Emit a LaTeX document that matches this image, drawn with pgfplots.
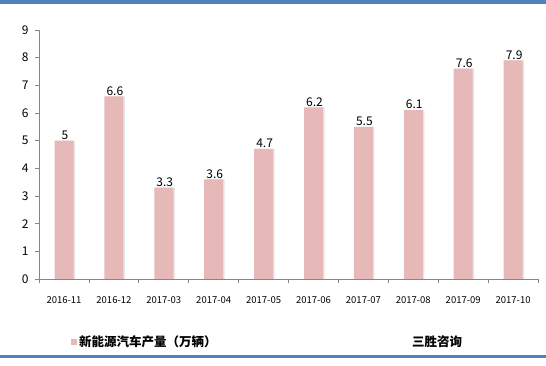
\documentclass[border=0pt]{standalone}
\usepackage{pgfplots}
\pgfplotsset{compat=1.18}
\usepackage{fontspec}
\setmainfont{Noto Sans CJK SC}
\definecolor{barpink}{HTML}{E6B9B8}
\definecolor{axisgray}{HTML}{868686}
\definecolor{bandblue}{HTML}{4F81BD}
\begin{document}
\begin{tikzpicture}[x=1pt,y=1pt]
\path[use as bounding box] (0,0) rectangle (546,366);
\fill[bandblue] (0,362) rectangle (546,366);
\fill[bandblue] (0,8) rectangle (546,11);
\begin{axis}[
  at={(64pt,87pt)}, anchor=origin,
  scale only axis, width=499pt, height=249pt,
  xmin=-0.5, xmax=9.5, ymin=0, ymax=9,
  axis lines*=left,
  axis line style={axisgray, line width=0.8pt},
  tick style={axisgray, line width=0.8pt},
  tick align=outside, major tick length=4pt,
  xtick={-0.5,0.5,...,9.5},
  x tick label as interval=true,
  xticklabels={2016-11,2016-12,2017-03,2017-04,2017-05,2017-06,2017-07,2017-08,2017-09,2017-10},
  ytick={0,1,...,9},
  /pgf/number format/assume math mode=true,
  x tick label style={font=\fontsize{9.5}{10}\selectfont, yshift=-10pt},
  y tick label style={font=\fontsize{12}{12}\selectfont, xshift=-3pt},
  legend style={at={(axis description cs:0.064,-0.253)}, anchor=west, draw=none, fill=none,
    font=\bfseries\fontsize{12.5}{14}\selectfont, inner sep=0pt},
  legend image code/.code={\fill[barpink] (0pt,-3pt) rectangle (6pt,3pt);},
  clip=false,
]
\addplot[ybar, bar width=19pt, bar shift=1.5pt, fill=black!10, draw=none, forget plot]
  coordinates {(0,5) (1,6.6) (2,3.3) (3,3.6) (4,4.7) (5,6.2) (6,5.5) (7,6.1) (8,7.6) (9,7.9)};
\addplot[ybar, bar width=19pt, bar shift=0pt, fill=barpink, draw=none,
  nodes near coords, nodes near coords style={font=\fontsize{12}{12}\selectfont, black, inner sep=1pt, xshift=1pt}]
  coordinates {(0,5) (1,6.6) (2,3.3) (3,3.6) (4,4.7) (5,6.2) (6,5.5) (7,6.1) (8,7.6) (9,7.9)};
\addlegendentry{新能源汽车产量（万辆）}
\end{axis}
\node[font=\bfseries\fontsize{12.5}{14}\selectfont] at (437,24) {三胜咨询};
\end{tikzpicture}
\end{document}
